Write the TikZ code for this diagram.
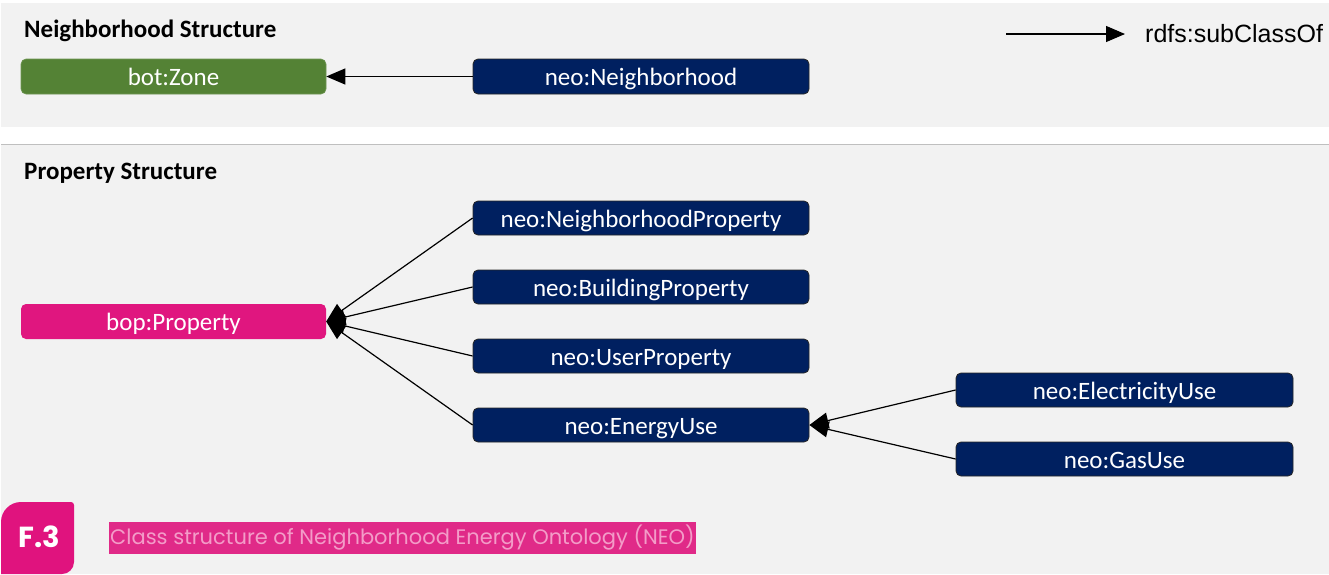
\documentclass[tikz,border=0pt]{standalone}
\usepackage{fontspec}
\setmainfont{Carlito}
\newfontfamily\legendfont{Liberation Sans}
\newfontfamily\capfont{Poppins}
\usetikzlibrary{arrows.meta}

\definecolor{panelgray}{HTML}{F2F2F2}
\definecolor{ruleGray}{HTML}{BFBFBF}
\definecolor{navy}{HTML}{002060}
\definecolor{zonegreen}{HTML}{548235}
\definecolor{proppink}{HTML}{E0167F}
\definecolor{tabpink}{HTML}{E0137E}
\definecolor{capbg}{HTML}{E02A88}
\definecolor{captext}{HTML}{F39CC8}

\tikzset{
  cls/.style={rectangle, rounded corners=5pt, minimum height=34pt,
    inner sep=0pt, text=white, text height=22pt, text depth=4pt,
    font=\fontsize{25}{28}\selectfont},
  neocls/.style={cls, fill=navy, draw=black!85, line width=0.8pt, minimum width=336pt},
  botcls/.style={cls, fill=zonegreen, draw=zonegreen!85!white, line width=0.6pt, minimum width=305pt, minimum height=35pt},
  bopcls/.style={cls, fill=proppink, minimum width=305pt, minimum height=35pt},
  sectiontitle/.style={anchor=west, inner sep=0pt, font=\fontsize{25}{28}\selectfont\bfseries},
  subclass/.style={draw=black, line width=1.2pt, -{Triangle[length=19pt,width=16pt]}},
}

\begin{document}
\begin{tikzpicture}[x=1pt, y=-1pt]
\useasboundingbox (0,0) rectangle (1329,574);
\fill[white] (0,0) rectangle (1329,574);

% section panels
\fill[panelgray] (1,3) rectangle (1329,127);
\fill[panelgray] (1,145) rectangle (1329,574);
\draw[ruleGray, line width=1.5pt] (1,144.5) -- (1329,144.5);

% section titles
\node[sectiontitle] (t1) at (24,31) {Neighborhood Structure};
\node[sectiontitle] (t2) at (24,173) {Property Structure};

% legend
\coordinate (la) at (1006,34);
\coordinate (lb) at (1125,34);
\draw[subclass] (la) -- (lb);
\node[anchor=west, inner sep=0pt, font=\legendfont\fontsize{25}{28}\selectfont] (lt) at (1145,34) {rdfs:subClassOf};

% neighborhood structure
\node[botcls] (zone) at (173.5,76.5) {bot:Zone};
\node[neocls, minimum height=35pt] (nbh) at (641,76.5) {neo:Neighborhood};
\draw[subclass] (nbh.west) -- (zone.east);

% property structure
\node[bopcls] (prop) at (173.5,321.5) {bop:Property};
\node[neocls] (nprop) at (641,218) {neo:NeighborhoodProperty};
\node[neocls] (bprop) at (641,287) {neo:BuildingProperty};
\node[neocls] (uprop) at (641,356) {neo:UserProperty};
\node[neocls] (euse) at (641,425) {neo:EnergyUse};
\node[neocls, minimum width=337pt] (elec) at (1124.5,390) {neo:ElectricityUse};
\node[neocls, minimum width=337pt] (gas) at (1124.5,459) {neo:GasUse};

\foreach \c in {nprop,bprop,uprop,euse}
  \draw[subclass] (\c.west) -- (prop.east);
\foreach \c in {elec,gas}
  \draw[subclass] (\c.west) -- (euse.east);

% figure tag and caption
\fill[tabpink] (1,574) -- (1,522) arc[start angle=180, end angle=270, radius=20]
  -- (71,502) arc[start angle=270, end angle=360, radius=3]
  -- (74,562) arc[start angle=0, end angle=90, radius=12] -- cycle;
\node[text=white, inner sep=0pt, font=\capfont\bfseries\fontsize{29}{32}\selectfont] (tag) at (39,537) {F.3};
\node[fill=capbg, anchor=west, inner xsep=1pt, minimum height=30pt, text=captext,
  font=\capfont\fontsize{21}{24}\selectfont] (cap) at (109,538)
  {Class structure of Neighborhood Energy Ontology (NEO)};
\end{tikzpicture}
\end{document}
